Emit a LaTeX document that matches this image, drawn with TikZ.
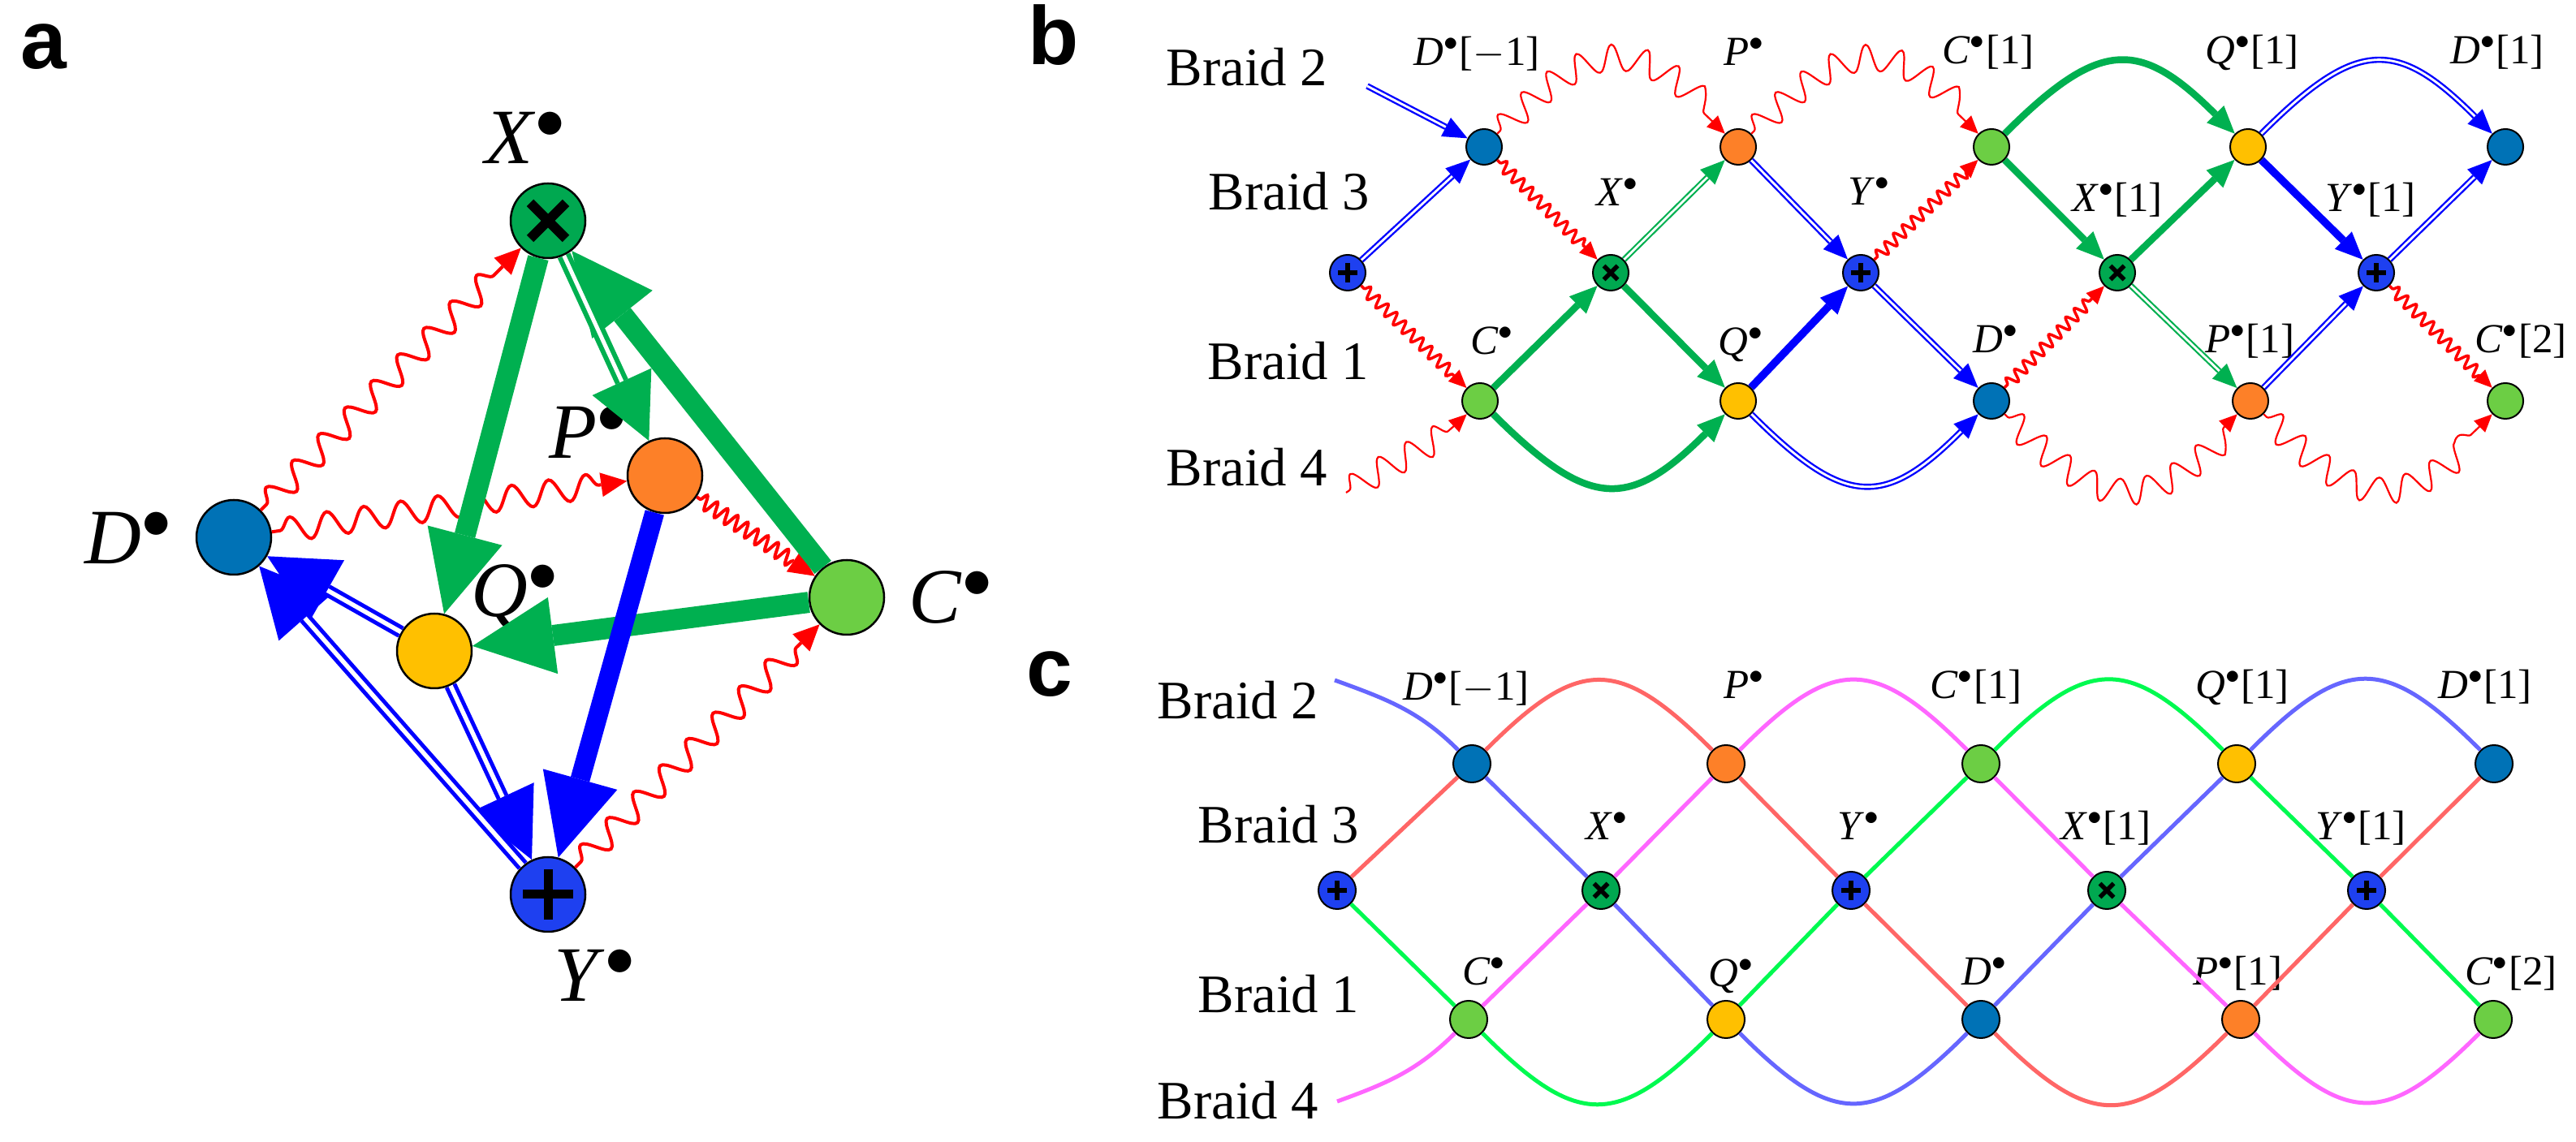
\documentclass[tikz,border=0pt]{standalone}
\usepackage{fontspec}
\setmainfont{Liberation Serif}
\newfontfamily\panelfont{Liberation Sans}
\usetikzlibrary{arrows.meta,decorations.pathmorphing}

\definecolor{dnode}{RGB}{0,114,182}
\definecolor{pnode}{RGB}{253,128,40}
\definecolor{qnode}{RGB}{255,192,0}
\definecolor{cnode}{RGB}{108,206,68}
\definecolor{xnode}{RGB}{0,168,80}
\definecolor{ynode}{RGB}{30,64,240}
\definecolor{arrgreen}{RGB}{0,176,80}
\definecolor{arrblue}{RGB}{0,0,255}
\definecolor{arrred}{RGB}{255,0,0}
\definecolor{braidred}{RGB}{255,102,102}
\definecolor{braidblue}{RGB}{102,102,255}
\definecolor{braidgreen}{RGB}{0,250,80}
\definecolor{braidmag}{RGB}{255,102,255}

\newcommand{\cpx}[1]{\textit{#1}$^{\bullet}$}

\begin{document}
\begin{tikzpicture}[auto]

%
% Styles
%
\tikzstyle{nodeA}  = [circle,draw=black,line width=0.25mm,minimum size=9.2mm,inner sep=0pt]
\tikzstyle{nodeB}  = [circle,draw=black,line width=0.2mm,minimum size=4.4mm,inner sep=0pt]
\tikzstyle{nodeC}  = [circle,draw=black,line width=0.2mm,minimum size=4.6mm,inner sep=0pt]
\tikzstyle{plusA}  = [path picture={\draw[black,line width=1.1mm] (path picture bounding box.center) +(-3.1mm,0) -- +(3.1mm,0) +(0,-3.1mm) -- +(0,3.1mm);}]
\tikzstyle{timesA} = [path picture={\draw[black,line width=1.2mm] (path picture bounding box.center) +(-2.2mm,-2.2mm) -- +(2.2mm,2.2mm) +(-2.2mm,2.2mm) -- +(2.2mm,-2.2mm);}]
\tikzstyle{plusB}  = [path picture={\draw[black,line width=0.55mm] (path picture bounding box.center) +(-1.2mm,0) -- +(1.2mm,0) +(0,-1.2mm) -- +(0,1.2mm);}]
\tikzstyle{timesB} = [path picture={\draw[black,line width=0.55mm] (path picture bounding box.center) +(-0.85mm,-0.85mm) -- +(0.85mm,0.85mm) +(-0.85mm,0.85mm) -- +(0.85mm,-0.85mm);}]

\tikzstyle{letter}   = [anchor=base west,inner sep=0pt,font=\panelfont\bfseries\fontsize{29}{32}\selectfont]
\tikzstyle{lblA}     = [anchor=base west,inner sep=0pt,font=\fontsize{27.5}{30}\selectfont]
\tikzstyle{lblB}     = [anchor=base,inner sep=0pt,font=\fontsize{14.5}{16}\selectfont]
\tikzstyle{braidlbl} = [anchor=base,inner sep=0pt,font=\fontsize{19}{22}\selectfont]

\tikzstyle{greenA}    = [draw=arrgreen,line width=2.6mm,-{Triangle[length=10mm,width=9.5mm,line width=0pt]}]
\tikzstyle{blueA}     = [draw=arrblue,line width=2.4mm,-{Triangle[length=10mm,width=9.5mm,line width=0pt]}]
\tikzstyle{dblgreenA} = [draw=arrgreen,double=white,line width=0.6mm,double distance=0.5mm,-{Triangle[length=8mm,width=8mm,line width=0pt]}]
\tikzstyle{dblblueA}  = [draw=arrblue,double=white,line width=0.5mm,double distance=0.55mm,-{Triangle[length=8.5mm,width=8.5mm,line width=0pt]}]
\tikzstyle{waveA}     = [draw=arrred,line width=0.4mm,decorate,decoration={snake,amplitude=1.5mm,segment length=4.6mm,pre length=1mm,post length=3.5mm},-{Triangle[length=3.2mm,width=3mm,line width=0pt]}]
\tikzstyle{tightA}    = [draw=arrred,line width=0.4mm,decorate,decoration={snake,amplitude=0.9mm,segment length=1.5mm,pre length=0.5mm,post length=3mm},-{Triangle[length=3.2mm,width=3mm,line width=0pt]}]

\tikzstyle{greenB}    = [draw=arrgreen,line width=0.85mm,-{Triangle[length=3.4mm,width=3mm,line width=0pt]}]
\tikzstyle{blueB}     = [draw=arrblue,line width=0.95mm,-{Triangle[length=3.4mm,width=3mm,line width=0pt]}]
\tikzstyle{dblgreenB} = [draw=arrgreen,double=white,line width=0.22mm,double distance=0.28mm,-{Triangle[length=3mm,width=2.6mm,line width=0pt]}]
\tikzstyle{dblblueB}  = [draw=arrblue,double=white,line width=0.24mm,double distance=0.28mm,-{Triangle[length=3mm,width=2.6mm,line width=0pt]}]
\tikzstyle{tightB}    = [draw=arrred,line width=0.35mm,decorate,decoration={snake,amplitude=0.7mm,segment length=1.5mm,pre length=0.5mm,post length=2mm},-{Triangle[length=2.2mm,width=2mm,line width=0pt]}]
\tikzstyle{longB}     = [draw=arrred,line width=0.22mm,decorate,decoration={snake,amplitude=1.6mm,segment length=3.9mm,pre length=0.5mm,post length=2mm},-{Triangle[length=2.2mm,width=2mm,line width=0pt]}]

\tikzstyle{braid}  = [line width=0.5mm]

\useasboundingbox (0,0) rectangle (31.73,14.06);

% panel letters
\node[letter] (la) at (0.25,13.21) {a};
\node[letter] (lb) at (12.66,13.26) {b};
\node[letter] (lc) at (12.64,5.48) {c};

%
% a: the octahedron
%
\node[nodeA,fill=xnode,timesA] (X) at (6.75,11.34) {};
\node[nodeA,fill=pnode]        (P) at (8.19,8.20)  {};
\node[nodeA,fill=dnode]        (D) at (2.88,7.44)  {};
\node[nodeA,fill=qnode]        (Q) at (5.35,6.04)  {};
\node[nodeA,fill=cnode]        (C) at (10.43,6.70) {};
\node[nodeA,fill=ynode,plusA]  (Y) at (6.75,3.04)  {};

\node[lblA] (lX) at (5.97,12.04) {\cpx{X}};
\node[lblA] (lP) at (6.76,8.41)  {\cpx{P}};
\node[lblA] (lD) at (1.04,7.11)  {\cpx{D}};
\node[lblA] (lQ) at (5.80,6.46)  {\cpx{Q}};
\node[lblA] (lC) at (11.19,6.38) {\cpx{C}};
\node[lblA] (lY) at (6.82,1.72)  {\cpx{Y}};

\draw[waveA]  (D) -- (X);
\draw[waveA]  (D) -- (P);
\draw[tightA] (P) -- (C);
\draw[waveA]  (Y) -- (C);

\draw[greenA]    (X) -- (Q);
\draw[greenA]    (C) -- (X);
\draw[greenA]    (C) -- (Q);
\draw[dblgreenA] (X) -- (P);

\draw[blueA]    (P) -- (Y);
\draw[dblblueA] (Q) -- (Y);
\draw[dblblueA] (Y) -- (D);
\draw[dblblueA] (Q) -- (D);

%
% b: the braids with arrows
%
\node[braidlbl] (b2b) at (15.36,13.00) {Braid 2};
\node[braidlbl] (b3b) at (15.88,11.47) {Braid 3};
\node[braidlbl] (b1b) at (15.87,9.38)  {Braid 1};
\node[braidlbl] (b4b) at (15.36,8.07)  {Braid 4};

\node[nodeB,fill=ynode,plusB]  (Yb0) at (16.60,10.70) {};
\node[nodeB,fill=dnode]        (Db0) at (18.28,12.25) {};
\node[nodeB,fill=cnode]        (Cb0) at (18.23,9.12)  {};
\node[nodeB,fill=xnode,timesB] (Xb0) at (19.84,10.70) {};
\node[nodeB,fill=pnode]        (Pb0) at (21.41,12.25) {};
\node[nodeB,fill=qnode]        (Qb0) at (21.41,9.12)  {};
\node[nodeB,fill=ynode,plusB]  (Yb1) at (22.92,10.70) {};
\node[nodeB,fill=cnode]        (Cb1) at (24.53,12.25) {};
\node[nodeB,fill=dnode]        (Db1) at (24.53,9.12)  {};
\node[nodeB,fill=xnode,timesB] (Xb1) at (26.08,10.70) {};
\node[nodeB,fill=qnode]        (Qb1) at (27.69,12.25) {};
\node[nodeB,fill=pnode]        (Pb1) at (27.72,9.12)  {};
\node[nodeB,fill=ynode,plusB]  (Yb2) at (29.27,10.70) {};
\node[nodeB,fill=dnode]        (Db2) at (30.86,12.25) {};
\node[nodeB,fill=cnode]        (Cb2) at (30.86,9.12)  {};

\node[lblB] (lDb0) at (18.19,13.25) {\cpx{D}[$-$1]};
\node[lblB] (lPb0) at (21.49,13.25) {\cpx{P}};
\node[lblB] (lCb1) at (24.49,13.27) {\cpx{C}[1]};
\node[lblB] (lQb1) at (27.74,13.27) {\cpx{Q}[1]};
\node[lblB] (lDb2) at (30.76,13.27) {\cpx{D}[1]};
\node[lblB] (lXb0) at (19.93,11.52) {\cpx{X}};
\node[lblB] (lYb1) at (23.03,11.53) {\cpx{Y}};
\node[lblB] (lXb1) at (26.08,11.45) {\cpx{X}[1]};
\node[lblB] (lYb2) at (29.20,11.45) {\cpx{Y}[1]};
\node[lblB] (lCb0) at (18.38,9.69)  {\cpx{C}};
\node[lblB] (lQb0) at (21.45,9.68)  {\cpx{Q}};
\node[lblB] (lDb1) at (24.59,9.71)  {\cpx{D}};
\node[lblB] (lPb1) at (27.71,9.71)  {\cpx{P}[1]};
\node[lblB] (lCb2) at (31.05,9.71)  {\cpx{C}[2]};

\coordinate (inb2) at (16.84,13.00);
\coordinate (inb4) at (16.58,7.99);

\draw[dblblueB] (inb2) -- (Db0);
\draw[longB]    (inb4) to[out=35,in=-135] (Cb0);

\draw[dblblueB]  (Yb0) -- (Db0);
\draw[tightB]    (Yb0) -- (Cb0);
\draw[tightB]    (Db0) -- (Xb0);
\draw[longB]     (Db0) to[out=45,in=135,looseness=1.5] (Pb0);
\draw[dblgreenB] (Xb0) -- (Pb0);
\draw[greenB]    (Cb0) -- (Xb0);
\draw[greenB]    (Xb0) -- (Qb0);
\draw[greenB]    (Cb0) to[out=-45,in=-135,looseness=1.5] (Qb0);

\draw[dblblueB]  (Pb0) -- (Yb1);
\draw[blueB]     (Qb0) -- (Yb1);
\draw[longB]     (Pb0) to[out=45,in=135,looseness=1.5] (Cb1);
\draw[dblblueB]  (Qb0) to[out=-45,in=-135,looseness=1.5] (Db1);
\draw[tightB]    (Yb1) -- (Cb1);
\draw[dblblueB]  (Yb1) -- (Db1);

\draw[greenB]    (Cb1) to[out=45,in=135,looseness=1.5] (Qb1);
\draw[greenB]    (Cb1) -- (Xb1);
\draw[tightB]    (Db1) -- (Xb1);
\draw[longB]     (Db1) to[out=-45,in=-135,looseness=1.5] (Pb1);
\draw[greenB]    (Xb1) -- (Qb1);
\draw[dblgreenB] (Xb1) -- (Pb1);

\draw[dblblueB]  (Qb1) to[out=45,in=135,looseness=1.5] (Db2);
\draw[blueB]     (Qb1) -- (Yb2);
\draw[dblblueB]  (Pb1) -- (Yb2);
\draw[longB]     (Pb1) to[out=-45,in=-135,looseness=1.5] (Cb2);
\draw[dblblueB]  (Yb2) -- (Db2);
\draw[tightB]    (Yb2) -- (Cb2);

%
% c: the plain braids
%
\node[braidlbl] (b2c) at (15.25,5.20) {Braid 2};
\node[braidlbl] (b3c) at (15.75,3.67) {Braid 3};
\node[braidlbl] (b1c) at (15.75,1.58) {Braid 1};
\node[braidlbl] (b4c) at (15.25,0.28) {Braid 4};

\node[nodeC,fill=ynode,plusB]  (Yc0) at (16.47,3.09) {};
\node[nodeC,fill=dnode]        (Dc0) at (18.13,4.65) {};
\node[nodeC,fill=cnode]        (Cc0) at (18.09,1.50) {};
\node[nodeC,fill=xnode,timesB] (Xc0) at (19.72,3.09) {};
\node[nodeC,fill=pnode]        (Pc0) at (21.26,4.65) {};
\node[nodeC,fill=qnode]        (Qc0) at (21.26,1.50) {};
\node[nodeC,fill=ynode,plusB]  (Yc1) at (22.80,3.09) {};
\node[nodeC,fill=cnode]        (Cc1) at (24.40,4.65) {};
\node[nodeC,fill=dnode]        (Dc1) at (24.40,1.50) {};
\node[nodeC,fill=xnode,timesB] (Xc1) at (25.95,3.09) {};
\node[nodeC,fill=qnode]        (Qc1) at (27.55,4.65) {};
\node[nodeC,fill=pnode]        (Pc1) at (27.60,1.50) {};
\node[nodeC,fill=ynode,plusB]  (Yc2) at (29.15,3.09) {};
\node[nodeC,fill=dnode]        (Dc2) at (30.72,4.65) {};
\node[nodeC,fill=cnode]        (Cc2) at (30.71,1.50) {};

\node[lblB] (lDc0) at (18.06,5.43) {\cpx{D}[$-$1]};
\node[lblB] (lPc0) at (21.49,5.45) {\cpx{P}};
\node[lblB] (lCc1) at (24.34,5.45) {\cpx{C}[1]};
\node[lblB] (lQc1) at (27.62,5.45) {\cpx{Q}[1]};
\node[lblB] (lDc2) at (30.61,5.45) {\cpx{D}[1]};
\node[lblB] (lXc0) at (19.80,3.71) {\cpx{X}};
\node[lblB] (lYc1) at (22.90,3.71) {\cpx{Y}};
\node[lblB] (lXc1) at (25.94,3.71) {\cpx{X}[1]};
\node[lblB] (lYc2) at (29.08,3.71) {\cpx{Y}[1]};
\node[lblB] (lCc0) at (18.28,1.92) {\cpx{C}};
\node[lblB] (lQc0) at (21.33,1.90) {\cpx{Q}};
\node[lblB] (lDc1) at (24.45,1.92) {\cpx{D}};
\node[lblB] (lPc1) at (27.56,1.92) {\cpx{P}[1]};
\node[lblB] (lCc2) at (30.93,1.92) {\cpx{C}[2]};

\coordinate (inc2) at (16.44,5.68);
\coordinate (inc4) at (16.47,0.49);

\draw[braid,draw=braidred]   (Yc0) -- (Dc0) to[out=45,in=135,looseness=1.5] (Pc0) -- (Yc1) -- (Dc1)
                             to[out=-45,in=-135,looseness=1.5] (Pc1) -- (Yc2) -- (Dc2);
\draw[braid,draw=braidblue]  (inc2) to[out=-20,in=135] (Dc0) -- (Xc0) -- (Qc0)
                             to[out=-45,in=-135,looseness=1.5] (Dc1) -- (Xc1) -- (Qc1)
                             to[out=45,in=135,looseness=1.5] (Dc2);
\draw[braid,draw=braidgreen] (Yc0) -- (Cc0) to[out=-45,in=-135,looseness=1.5] (Qc0) -- (Yc1) -- (Cc1)
                             to[out=45,in=135,looseness=1.5] (Qc1) -- (Yc2) -- (Cc2);
\draw[braid,draw=braidmag]   (inc4) to[out=20,in=-135] (Cc0) -- (Xc0) -- (Pc0)
                             to[out=45,in=135,looseness=1.5] (Cc1) -- (Xc1) -- (Pc1)
                             to[out=-45,in=-135,looseness=1.5] (Cc2);

\end{tikzpicture}
\end{document}
